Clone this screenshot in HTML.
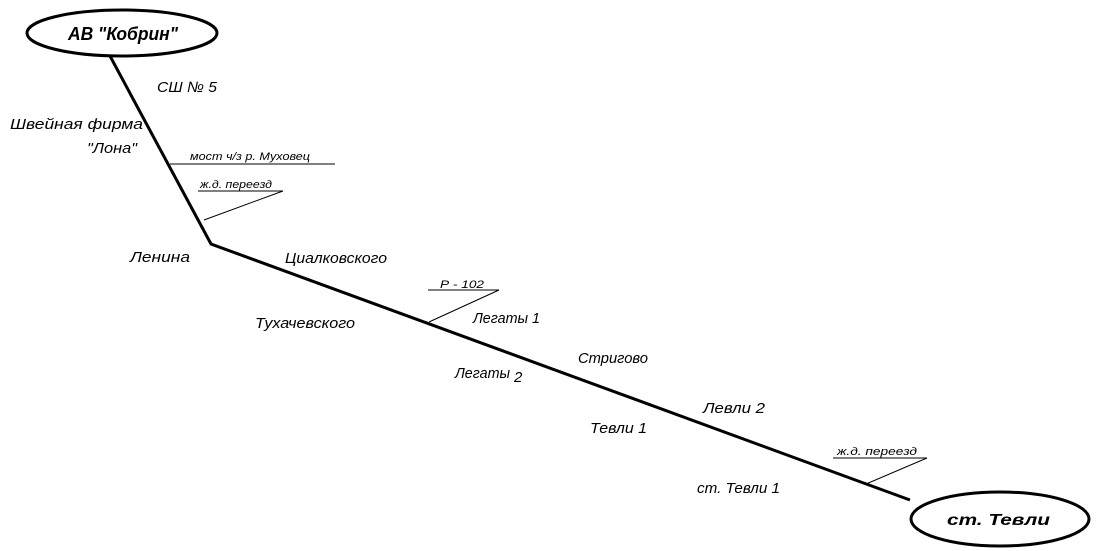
<!DOCTYPE html>
<html><head><meta charset="utf-8"><style>
html,body{margin:0;padding:0;background:#fff;}
svg{display:block}
text{font-family:"Liberation Sans",sans-serif;font-style:italic;fill:#000;}
.l{font-size:15px}
.s{font-size:11px}
</style></head><body>
<svg width="1100" height="551" viewBox="0 0 1100 551">
<ellipse cx="122" cy="33" rx="95" ry="23" fill="#fff" stroke="#000" stroke-width="3"/>
<text x="68" y="40" font-size="18" font-weight="bold" textLength="110" lengthAdjust="spacingAndGlyphs">АВ "Кобрин"</text>
<polyline points="110,56 211,244 910,500" fill="none" stroke="#000" stroke-width="3"/>
<ellipse cx="1000" cy="519" rx="89" ry="27" fill="#fff" stroke="#000" stroke-width="3"/>
<text x="947" y="525" font-size="16" font-weight="bold" textLength="103" lengthAdjust="spacingAndGlyphs">ст. Тевли</text>

<line x1="170" y1="164" x2="335" y2="164" stroke="#000" stroke-width="1"/>
<text class="s" x="190" y="160" textLength="120" lengthAdjust="spacingAndGlyphs">мост ч/з р. Муховец</text>
<line x1="198" y1="191" x2="283" y2="191" stroke="#000" stroke-width="1"/>
<line x1="283" y1="191" x2="204" y2="220" stroke="#000" stroke-width="1"/>
<text class="s" x="200" y="188" textLength="72" lengthAdjust="spacingAndGlyphs">ж.д. переезд</text>

<line x1="428" y1="290" x2="499" y2="290" stroke="#000" stroke-width="1"/>
<line x1="499" y1="290" x2="429" y2="322" stroke="#000" stroke-width="1"/>
<text class="s" x="440" y="288" textLength="44" lengthAdjust="spacingAndGlyphs">Р - 102</text>

<line x1="833" y1="458" x2="927" y2="458" stroke="#000" stroke-width="1"/>
<line x1="927" y1="458" x2="866" y2="484" stroke="#000" stroke-width="1"/>
<text class="s" x="837" y="455" textLength="80" lengthAdjust="spacingAndGlyphs">ж.д. переезд</text>

<text class="l" x="157" y="92" textLength="60" lengthAdjust="spacingAndGlyphs">СШ № 5</text>
<text class="l" x="10" y="129" textLength="133" lengthAdjust="spacingAndGlyphs">Швейная фирма</text>
<text class="l" x="87" y="153" textLength="50" lengthAdjust="spacingAndGlyphs">"Лона"</text>
<text class="l" x="130" y="262" textLength="60" lengthAdjust="spacingAndGlyphs">Ленина</text>
<text class="l" x="285" y="263" textLength="102" lengthAdjust="spacingAndGlyphs">Циалковского</text>
<text class="l" x="255" y="328" textLength="100" lengthAdjust="spacingAndGlyphs">Тухачевского</text>
<text class="l" x="473" y="323" textLength="67" lengthAdjust="spacingAndGlyphs">Легаты 1</text>
<text class="l" x="455" y="378" textLength="55" lengthAdjust="spacingAndGlyphs">Легаты</text>
<text class="l" x="514" y="382">2</text>
<text class="l" x="578" y="363" textLength="70" lengthAdjust="spacingAndGlyphs">Стригово</text>
<text class="l" x="703" y="413" textLength="62" lengthAdjust="spacingAndGlyphs">Левли 2</text>
<text class="l" x="590" y="433" textLength="57" lengthAdjust="spacingAndGlyphs">Тевли 1</text>
<text class="l" x="697" y="493" textLength="83" lengthAdjust="spacingAndGlyphs">ст. Тевли 1</text>
</svg>
</body></html>
